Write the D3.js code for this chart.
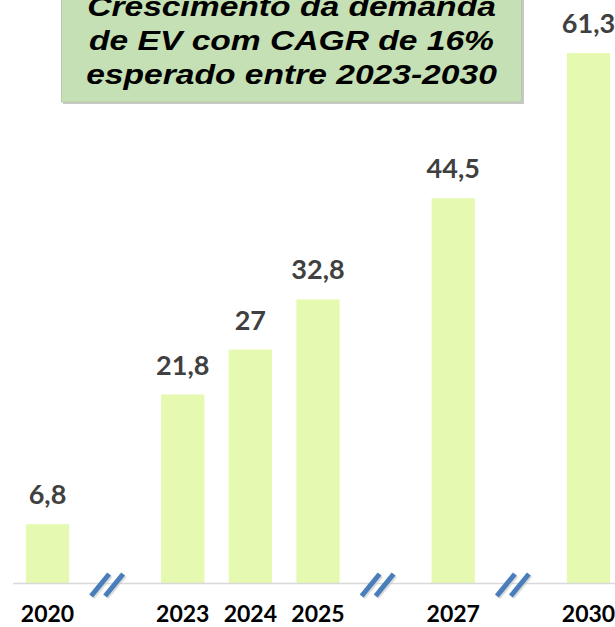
<!DOCTYPE html>
<html>
<head>
<meta charset="utf-8">
<script src="https://cdn.jsdelivr.net/npm/d3@7"></script>
<style>
  body { margin: 0; background: #fff; }
  svg { display: block; }
</style>
</head>
<body>
<svg id="chart" width="615" height="627"></svg>
<script>
// dados
const slots = ["2020", "q1", "2023", "2024", "2025", "q2", "2027", "q3", "2030"];
const years = ["2020", "2023", "2024", "2025", "2027", "2030"];
const values = [6.8, 21.8, 27, 32.8, 44.5, 61.3];
const valueLabels = ["6,8", "21,8", "27", "32,8", "44,5", "61,3"];
const breaks = ["q1", "q2", "q3"];
const titleLines = ["Crescimento da demanda", "de EV com CAGR de 16%", "esperado entre 2023-2030"];

const svg = d3.select("#chart");
const baseY = 583;

const x = d3.scaleBand()
    .domain(slots)
    .range([13.7, 622.3])
    .paddingInner(0.36)
    .paddingOuter(0.18);

const y = d3.scaleLinear()
    .domain([0, 61.3])
    .range([baseY, 53]);

const data = years.map((yr, i) => ({ year: yr, value: values[i], label: valueLabels[i] }));

// barras
svg.selectAll("rect.bar")
    .data(data)
    .enter()
    .append("rect")
    .attr("class", "bar")
    .attr("x", d => x(d.year))
    .attr("y", d => y(d.value))
    .attr("width", x.bandwidth())
    .attr("height", d => baseY - y(d.value))
    .style("fill", "#e5f9b1");

// linha do eixo
svg.append("line")
    .attr("x1", 13)
    .attr("x2", 615)
    .attr("y1", baseY + 0.5)
    .attr("y2", baseY + 0.5)
    .style("stroke", "#d9d9d9")
    .style("stroke-width", 1.5);

// rótulos de valor
svg.selectAll("text.val")
    .data(data)
    .enter()
    .append("text")
    .attr("class", "val")
    .attr("x", d => x(d.year) + x.bandwidth() / 2)
    .attr("y", d => y(d.value) - 20)
    .attr("text-anchor", "middle")
    .style("font-family", "Lato, sans-serif")
    .style("font-weight", "bold")
    .style("font-size", "27px")
    .style("fill", "#404040")
    .text(d => d.label);

// rótulos do eixo x
svg.selectAll("text.year")
    .data(years)
    .enter()
    .append("text")
    .attr("class", "year")
    .attr("x", d => x(d) + x.bandwidth() / 2)
    .attr("y", 622)
    .attr("text-anchor", "middle")
    .style("font-family", "Lato, sans-serif")
    .style("font-weight", "bold")
    .style("font-size", "23px")
    .style("fill", "#000")
    .text(d => d);

// marcas de quebra do eixo
const brk = svg.selectAll("g.brk")
    .data(breaks)
    .enter()
    .append("g")
    .attr("class", "brk")
    .attr("transform", d => "translate(" + (x(d) + x.bandwidth() / 2 - 8) + "," + (baseY + 1) + ")");

[-7, 7].forEach(dx => {
    brk.append("line")
        .attr("x1", dx - 9 + 1.5)
        .attr("y1", 12 + 1.5)
        .attr("x2", dx + 9 + 1.5)
        .attr("y2", -10 + 1.5)
        .style("stroke", "#c8c8c8")
        .style("stroke-width", 5)
        .style("opacity", 0.6);
    brk.append("line")
        .attr("x1", dx - 9)
        .attr("y1", 12)
        .attr("x2", dx + 9)
        .attr("y2", -10)
        .style("stroke", "#4a7ebb")
        .style("stroke-width", 5);
});

// caixa do título
svg.append("rect")
    .attr("x", 63)
    .attr("y", -40)
    .attr("width", 461)
    .attr("height", 144)
    .style("fill", "#c8c8c8");
svg.append("rect")
    .attr("x", 61.5)
    .attr("y", -40)
    .attr("width", 460)
    .attr("height", 142)
    .style("fill", "#c5e0b4")
    .style("stroke", "#b8c8ae")
    .style("stroke-width", 1);

svg.append("g")
    .attr("transform", "translate(291.5,0) scale(1.2,1)")
    .selectAll("text.title")
    .data(titleLines)
    .enter()
    .append("text")
    .attr("class", "title")
    .attr("x", 0)
    .attr("y", (d, i) => 16 + i * 34)
    .attr("text-anchor", "middle")
    .style("font-family", "'Liberation Sans', Arial, sans-serif")
    .style("font-weight", "bold")
    .style("font-style", "italic")
    .style("font-size", "28px")
    .style("fill", "#000")
    .text(d => d);
</script>
</body>
</html>
